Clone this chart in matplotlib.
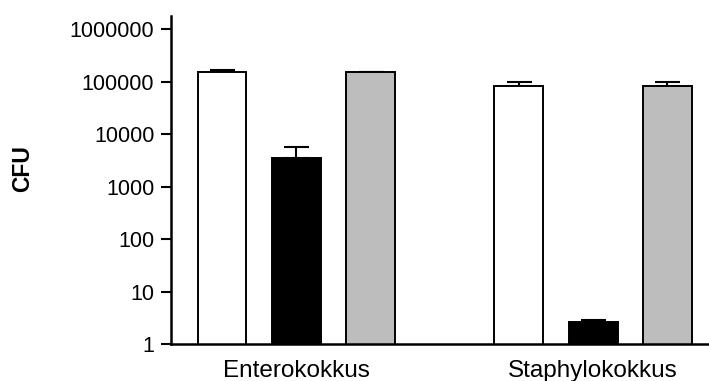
import numpy as np
import matplotlib.pyplot as plt
from matplotlib.ticker import FixedLocator, FixedFormatter, NullLocator

plt.rcParams['font.family'] = ['Liberation Sans', 'DejaVu Sans']

# data
groups = ['Enterokokkus', 'Staphylokokkus']
white_vals = [152000, 82500]
white_err = [18000, 15500]
black_vals = [3470, 2.66]
black_err = [2330, 0.2]
gray_vals = [152000, 82500]
gray_err = [0, 15500]
ytick_vals = [1, 10, 100, 1000, 10000, 100000, 1000000]
ytick_labels = ['1', '10', '100', '1000', '10000', '100000', '1000000']

fig = plt.figure(figsize=(7.09, 3.81), dpi=100)
ax = fig.add_axes([171 / 709, 1 - 344.3 / 381, 1 - 171 / 709, (344.3 - 16) / 381])

x = np.arange(len(groups))
width = 0.165
offset = 0.251
series = [
    (white_vals, white_err, 'white', -offset),
    (black_vals, black_err, 'black', 0),
    (gray_vals, gray_err, '#bdbdbd', offset),
]
for vals, errs, color, dx in series:
    ax.bar(x + dx, vals, width=width, color=color, edgecolor='black', linewidth=1.4,
           zorder=2)
    ax.errorbar(x + dx, vals, yerr=[np.zeros(len(vals)), errs], fmt='none',
                ecolor='black', elinewidth=1.5, capsize=9, capthick=1.5, zorder=1)

ax.set_yscale('log')
ax.set_ylim(1, 10 ** 6.25)
ax.set_xlim(-0.423, 1.391)
ax.yaxis.set_major_locator(FixedLocator(ytick_vals))
ax.yaxis.set_major_formatter(FixedFormatter(ytick_labels))
ax.yaxis.set_minor_locator(NullLocator())

ax.set_xticks(x)
ax.set_xticklabels(groups)
ax.tick_params(axis='x', length=0, pad=11, labelsize=17.5)
ax.tick_params(axis='y', length=7, width=1.5, pad=5, labelsize=15.5, direction='out')

for side in ['top', 'right']:
    ax.spines[side].set_visible(False)
for side in ['left', 'bottom']:
    ax.spines[side].set_linewidth(1.8)

fig.text(23 / 709, 1 - 169 / 381, 'CFU', rotation=90, fontsize=16.5, fontweight='bold',
         ha='center', va='center')

fig.savefig('out.png', dpi=100)
